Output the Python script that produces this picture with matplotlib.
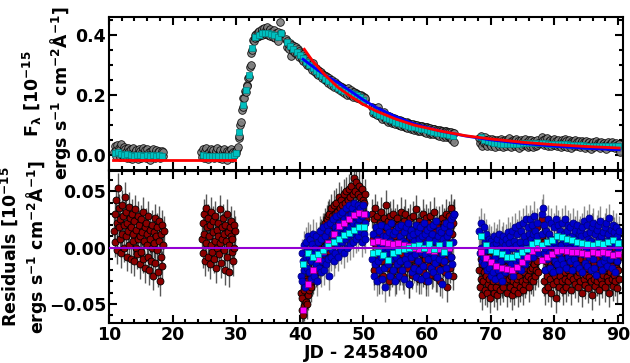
import numpy as np
import matplotlib
matplotlib.use("Agg")
import matplotlib.pyplot as plt
from matplotlib.ticker import MultipleLocator

plt.rcParams['font.family'] = ['DejaVu Sans']
plt.rcParams['font.weight'] = 'bold'
plt.rcParams['axes.labelweight'] = 'bold'
plt.rcParams['mathtext.default'] = 'bf'
plt.rcParams['font.size'] = 12.5

# Observed light curve, values in units of 1e-3 (x 1e-15 erg/s/cm2/A)
# one list per observing block, sampled every obs_step days from obs_start
obs_start = [10.8, 24.5, 30.0, 37.8, 51.4, 68.2, 78.0]
obs_step = 0.125
obs_1 = [10, 28, -4, 15, 32, 5, 22, -8, 18, 35, 0, 12, 26, -6, 20, 8, -12, 24,
         3, 14, -10, 18, 6, -15, 22, 0, 10, -8, 16, 4, -14, 20, -2, 12, -10, 8,
         24, -5, 2, 15, -12, 6, 18, -4, 10, -16, 14, 2, -8, 20, -2, 6, -12, 16,
         0, 10, -6, 14, -10, 4, 12, -4, 8]
obs_2 = [8, -6, 18, 2, -12, 14, 22, -4, 6, -15, 10, 0, 20, -8, 4, 16, -10, 2,
         12, -6, 24, 0, -12, 8, 15, -4, -14, 10, 4, 18, -8, 0, 12, -16, 6, 14,
         -4, 20, 2, -10, 8, -2, 10]
obs_3 = [5, 20, 25, 55, 62, 98, 108, 150, 160, 188, 190, 212, 208, 232, 228,
         255, 260, 292, 300, 338, 350, 382, 378, 398, 388, 402, 392, 408, 396,
         412, 400, 405, 418, 398, 410, 422, 402, 415, 408, 425, 400, 412, 420,
         395, 410, 405, 392, 415, 398, 388, 405, 395, 380, 410, 400, 443, 405]
obs_4 = [385, 360, 378, 368, 352, 372, 358, 330, 366, 345, 362, 350, 340, 358,
         335, 352, 345, 325, 340, 330, 318, 335, 312, 330, 322, 305, 318, 300,
         312, 295, 308, 298, 300, 282, 305, 288, 292, 275, 290, 270, 282, 265,
         280, 268, 275, 255, 270, 262, 265, 248, 262, 250, 258, 240, 255, 245,
         250, 232, 248, 238, 240, 225, 242, 230, 235, 218, 232, 222, 228, 212,
         226, 215, 222, 205, 220, 210, 218, 200, 222, 206, 212, 198, 215, 200,
         210, 192, 208, 196, 205, 188, 202, 192, 200, 185, 198, 188, 196, 180,
         192, 184, 188]
obs_5 = [160, 140, 155, 138, 135, 150, 132, 158, 145, 128, 140, 125, 120, 138,
         142, 125, 132, 115, 118, 130, 110, 128, 114, 126, 124, 105, 110, 122,
         102, 120, 118, 106, 116, 98, 100, 115, 95, 112, 110, 98, 110, 92, 94,
         108, 88, 106, 104, 92, 103, 85, 88, 102, 82, 100, 98, 86, 98, 80, 84,
         96, 78, 96, 95, 82, 93, 76, 80, 92, 72, 92, 90, 78, 88, 70, 74, 87, 68,
         86, 85, 72, 84, 65, 70, 82, 62, 82, 80, 68, 80, 60, 66, 78, 58, 78, 77,
         62, 76, 55, 60, 75, 50, 74, 72, 42]
obs_6 = [55, 38, 62, 45, 30, 50, 40, 58, 35, 48, 28, 44, 52, 36, 46, 30, 54,
         40, 33, 49, 27, 43, 51, 37, 45, 29, 41, 53, 34, 47, 26, 42, 50, 36, 31,
         48, 39, 55, 30, 44, 25, 41, 49, 35, 46, 28, 52, 38, 33, 45, 24, 42, 50,
         37, 29, 47, 40, 32, 53, 36, 44, 27, 48, 39, 31, 51, 35, 43, 26, 46, 38,
         30, 49, 34, 41]
obs_7 = [58, 40, 48, 32, 52, 44, 36, 55, 30, 46, 38, 50, 28, 45, 42, 34, 53,
         37, 47, 29, 44, 51, 33, 40, 26, 48, 36, 43, 31, 52, 38, 45, 27, 41, 49,
         34, 39, 24, 46, 35, 42, 30, 50, 37, 28, 44, 33, 47, 25, 40, 36, 45, 29,
         42, 22, 38, 46, 31, 40, 27, 44, 34, 20, 39, 30, 43, 26, 37, 45, 32, 28,
         41, 35, 23, 38, 44, 30, 36, 26, 40, 33, 21, 37, 42, 29, 34, 25, 39, 31,
         43, 27, 35, 22, 38, 30, 33, 24, 36, 10]

# binned light curve (cyan squares), every 0.5 d
bin_start = [10.9, 24.7, 30.0, 38.0, 51.5, 68.5, 78.0]
bin_step = 0.5
bin_1 = [5, 8, 3, 0, 2, -1, -3, 0, -2, -4, -1, -3, -2, -4, -1, -3]
bin_2 = [-2, -3, -4, -3, -5, -4, -3, -5, -4, -3, -2]
bin_3 = [5, 75, 165, 215, 265, 355, 392, 400, 405, 405, 405, 402, 398, 392, 405]
bin_4 = [375, 362, 352, 344, 333, 322, 311, 300, 290, 280, 271, 262, 254, 246,
         238, 230, 223, 216, 212, 209, 206, 203, 198, 192, 184]
bin_5 = [145, 140, 134, 128, 124, 118, 115, 110, 107, 103, 100, 97, 94, 92, 89,
         87, 85, 82, 79, 77, 74, 72, 70, 68, 66, 64]
bin_6 = [58, 50, 45, 42, 40, 38, 37, 36, 35, 35, 35, 36, 37, 38, 39, 40, 40, 41]
bin_7 = [38, 38, 37, 37, 37, 37, 36, 35, 35, 34, 33, 33, 32, 32, 31, 31, 30,
         30, 29, 29, 29, 28, 29, 30, 28]

# model curves
flat_x = [10.7, 29.8]
flat_y = [-0.017, -0.017]
red_x = [40.7, 42, 44, 46, 48, 50, 52, 55, 58, 62, 66, 70, 75, 80, 85, 90.2]
red_y = [0.352, 0.313, 0.265, 0.225, 0.195, 0.168, 0.146, 0.120, 0.099, 0.080,
         0.064, 0.053, 0.042, 0.034, 0.028, 0.023]
blue_x = [40.5, 42, 44, 46, 48, 50, 52, 55, 58, 62, 66, 70, 75, 80, 85, 90.2]
blue_y = [0.319, 0.295, 0.265, 0.241, 0.212, 0.183, 0.158, 0.128, 0.103, 0.080,
          0.063, 0.050, 0.038, 0.029, 0.022, 0.017]

# residuals (units of 1e-3), every 0.1 d
res_start = [10.8, 24.6, 40.2, 51.4, 68.2, 78.0]
res_step = 0.1
res_err = 0.013
red_1 = [15, 30, 5, 42, 22, -2, 53, 18, 35, 8, 25, -5, 38, 12, 28, 0, 20, 45,
         10, 32, -8, 22, 15, 36, 2, 26, -10, 18, 30, 6, 12, -12, 24, 34, 0, 16,
         -6, 28, 8, 20, -15, 10, 25, -4, 14, 32, -10, 6, 18, -18, 22, 2, 12, -8,
         28, -20, 8, 16, -12, 20, 0, -25, 14, 4, 26, -14, 10, -2, 18, -22, 6,
         24, -30, 12, -8, 20, -16, 2, 15]
red_2 = [8, 22, -5, 30, 12, -12, 35, 4, 18, -8, 26, 10, -15, 20, 2, 32, -4, 14,
         24, -10, 6, 28, -18, 16, 0, 22, 10, -6, 34, 4, -14, 18, 8, 26, -2, 12,
         -20, 20, 6, 30, -8, 14, 2, -22, 18, 10, 24, -4, 8, -12, 20, 0, 15]
red_3 = [-40, -55, -45, -60, -38, -52, -35, -48, -28, -50, -30, -42, -22, -38,
         -20, -35, -12, -30, -10, -28, -5, -25, -8, -22, 2, -20, 0, -15, 5, -18,
         10, -10, 12, -8, 15, -5, 18, -2, 22, 0, 25, 5, 28, -3, 30, 8, 20, 35, 5,
         28, 12, 38, 2, 30, 15, 40, 8, 32, 22, 45, 5, 35, 18, 42, 10, 38, 25, 48,
         12, 40, 28, 50, 15, 42, 30, 52, 18, 45, 32, 55, 20, 48, 35, 62, 22, 50,
         38, 58, 25, 48, 35, 55, 20, 45, 38, 52, 28, 42, 15, 40, 30, 48, 25]
red_4 = [30, 8, -20, 25, 35, 2, -15, 18, 28, -8, 12, -28, 22, 5, 32, -12, 15,
         -25, 8, 26, -5, 18, 38, -18, 10, 24, -30, 4, 28, -10, 16, -22, 30, 0,
         -12, 22, 10, -28, 26, -2, -15, 20, 6, -20, 14, 32, -6, 18, -25, 4, 24,
         -12, 30, -2, -18, 14, 22, -32, 8, 26, -10, 16, -24, 6, 28, -4, 12, -16,
         34, 0, -20, 18, 10, -28, 24, 2, -14, 20, -6, 30, -22, 8, 16, -10, 26,
         -30, 12, 4, 22, -16, 28, -4, 10, -24, 18, 6, -12, 32, -8, 14, -26, 20,
         2, -18, 24, -6, 12, -30, 16, 26, -2, -14, 22, 8, -22, 30, -10, 14, -35,
         20, 4, 28, -18, 35, -8, 12, -25, 22, 30]
red_5 = [-20, -35, -10, -28, -42, -15, -30, -5, -22, -38, -12, -25, -40, -18,
         -32, -8, -28, -45, -20, -35, -15, -30, -25, -40, -10, -28, -35, -18,
         -42, -22, -30, -12, -38, -25, -15, -32, -20, -35, -8, -28, -18, -30,
         -5, -22, -40, -15, -28, -12, -35, -20, -25, -42, -10, -30, -18, -38,
         -22, -8, -32, -15, -28, -40, -12, -25, -35, -5, -20, -30, -15, -38,
         -22, -10, -32, -18, -28, 0, -25, -12, -35, -20, -8, -28, 5, -18, -30,
         10, -15, -25, -5, -20, 18, -12, -22]
red_6 = [25, 10, -10, -30, 5, -20, -38, -12, -25, -5, -35, -18, 0, -28, -15,
         -40, -8, -22, -32, -12, -2, -25, -45, -15, -30, -8, -20, -35, -10, -25,
         2, -18, -30, -12, -38, -5, -22, -28, -15, -35, -8, -20, -30, -12, 0,
         -25, -38, -15, -5, -28, -20, -10, -32, -18, 5, -25, -12, -35, -8, -22,
         -15, -30, -10, -40, -20, -5, -28, -15, -33, -10, -24, 0, -18, -36, -12,
         -26, -6, -30, -16, -42, -20, -8, -28, -14, -34, -2, -22, -30, -10, -25,
         -38, -15, -5, -28, -18, -32, -10, -24, 2, -20, -35, -12, -26, -8, -30,
         -18, -40, -14, -22, -6, -28, -16, -34, -10, -24, -2, -30, -18, -36,
         -12, -20, -28, -8]
blue_3 = [-25, -5, -30, -12, 2, -20, -35, -8, 5, -18, -2, 10, -22, -8, 8, -28,
          -12, 3, -20, 12, -5, -25, 0, -15, 10, -30, -8, 5, -18, 15, -3, -22, 8,
          -12, 18, -5, -20, 10, 0, -15, 20, 2, -10, 15, -25, 5, 22, -8, 12, -2,
          25, -12, 8, 18, -5, 28, 2, 15, -8, 22, 10, 30, -2, 18, 5, 32, 12, -5,
          25, 8, 35, 15, 0, 28, 10, 38, 18, 2, 30, 12, 35, 22, 5, 40, 15, 28, 8,
          32, 20, 38, 10, 25, 35, 15, 30, 5, 28, 18, 38, 12, 22, 8, 30]
blue_4 = [-10, 12, -25, 5, -15, 18, -5, -30, 8, -12, 15, -20, 2, -8, 20, -28,
          0, 10, -18, 5, -35, 10, -5, 18, -15, 0, 14, -25, 6, -10, 22, -5, -20,
          12, 0, -30, 15, -8, 4, -15, 18, -2, -25, 10, -12, 20, 0, -20, 6, 14,
          -28, 4, -10, 18, -5, -15, 22, -2, -32, 10, -8, 16, -22, 3, 12, -18, 6,
          -6, 20, -26, 0, 14, -12, 8, -20, 18, -4, -28, 10, 2, -16, 22, -6, 12,
          -24, 4, 16, -10, -30, 8, 18, -4, -18, 12, 0, -22, 20, -8, 6, -14, 24,
          -2, -26, 10, -10, 16, 2, -20, 14, -6, -32, 8, 18, -12, 4, -18, 22, -4,
          10, -24, 14, 0, 20, -8, 25, -15, 28, 5, 30]
blue_5 = [15, -5, 22, 0, -12, 10, -8, 18, -15, 5, -2, 12, -20, 4, -10, 8, -18,
          0, -25, 6, -12, 2, -22, 10, -8, -28, 4, -15, 8, -20, -5, 12, -25, 0,
          -12, 6, -30, -2, 10, -18, 2, -22, 8, -10, -3, 14, -20, 4, -12, 10, -15,
          0, 15, -25, 6, -8, 18, -12, 2, -18, 12, -5, 20, -10, 5, -20, 15, 0, -8,
          22, -2, 10, -15, 25, 5, -10, 18, 0, 12, -6, 25, 8, -4, 20, 12, -8, 28,
          5, 15, 0, 22, 10, -5]
blue_6 = [30, 12, 35, -5, 20, 0, -20, 15, 5, -10, 25, -5, 12, -18, 8, 22, -8,
          2, -22, 18, 5, -12, 25, 0, -15, 10, 20, -5, -20, 15, 2, -10, 22, 8,
          -15, 12, -2, 25, -18, 5, 15, -8, 20, 0, -12, 18, -5, 10, -20, 22, 5,
          -10, 15, 0, -15, 20, 8, -5, 12, -18, 15, 2, 10, -22, 18, -6, 24, 4,
          -14, 12, -2, 20, -16, 8, 26, -8, 14, -20, 6, 18, -10, 22, 0, -18, 12,
          4, -24, 16, -4, 20, 8, -14, 24, -6, 10, -20, 14, 2, -12, 18, -8, 22, 6,
          -16, 12, -2, 26, -10, 4, 16, -18, 8, 20, -6, 14, -22, 2, 18, -12, 10,
          0, 15, 5]

# binned residuals, every 0.8 d
rbin_start = [40.5, 51.5, 68.5, 78.0]
rbin_step = 0.8
mag_3 = [-55, -32, -20, -10, -3, 4, 12, 19, 22, 25, 29, 31, 30]
mag_4 = [5, 6, 5, 4, 3, 4, 2, 1, 0, -1, 0, -2, -3, -1, -2, 0]
mag_5 = [-4, -9, -13, -16, -18, -19, -20, -17, -13, -8, -3, 0]
mag_6 = [-11, -8, -6, -3, -2, -3, -4, -4, -5, -6, -4, -5, -4, -5, -7, -6]
cyan_3 = [-15, -5, -8, -6, -2, 1, 5, 8, 11, 13, 16, 18, 18]
cyan_4 = [-5, -4, -7, -11, -5, -3, -1, 0, 1, 2, 0, 3, -1, 2, -4, 3]
cyan_5 = [10, 2, -2, -4, -6, -8, -8, -7, -4, -1, 3, 5]
cyan_6 = [2, 5, 7, 10, 9, 8, 7, 5, 4, 3, 2, 4, 3, 5, 7, 4]


def days(start, step, vals):
    return start + step * np.arange(len(vals))


fig = plt.figure(figsize=(6.3, 3.63), dpi=100)
ax1 = fig.add_axes([0.173, 0.532, 0.816, 0.4215])
ax2 = fig.add_axes([0.173, 0.110, 0.816, 0.419], sharex=ax1)

# top panel: light curve
for s, v in zip(obs_start, [obs_1, obs_2, obs_3, obs_4, obs_5, obs_6, obs_7]):
    ax1.plot(days(s, obs_step, v), np.array(v) / 1000, 'o', mfc='gray',
             mec='k', ms=5.5, mew=0.6, alpha=0.9)
for s, v in zip(bin_start, [bin_1, bin_2, bin_3, bin_4, bin_5, bin_6, bin_7]):
    ax1.plot(days(s, bin_step, v), np.array(v) / 1000, 's', mfc='c',
             mec='teal', ms=4.5, mew=0.5)
ax1.plot(flat_x, flat_y, color='r', lw=2)
ax1.plot(blue_x, blue_y, color='b', lw=2)
ax1.plot(red_x, red_y, color='r', lw=2)

# bottom panel: residuals
for s, v in zip(res_start, [red_1, red_2, red_3, red_4, red_5, red_6]):
    ax2.errorbar(days(s, res_step, v), np.array(v) / 1000, yerr=res_err,
                 fmt='o', mfc='darkred', mec='k', ms=5, mew=0.6,
                 ecolor=(0, 0, 0, 0.65), elinewidth=1.0)
for s, v in zip(res_start[2:], [blue_3, blue_4, blue_5, blue_6]):
    ax2.errorbar(days(s, res_step, v), np.array(v) / 1000, yerr=res_err,
                 fmt='o', mfc='mediumblue', mec='navy', ms=5, mew=0.6,
                 ecolor=(0, 0, 0, 0.45), elinewidth=1.0)
for s, v in zip(rbin_start, [mag_3, mag_4, mag_5, mag_6]):
    ax2.plot(days(s, rbin_step, v), np.array(v) / 1000, 's', mfc='magenta',
             mec='purple', ms=5, mew=0.5, zorder=5)
for s, v in zip(rbin_start, [cyan_3, cyan_4, cyan_5, cyan_6]):
    ax2.plot(days(s, rbin_step, v), np.array(v) / 1000, 's', mfc='cyan',
             mec='teal', ms=5, mew=0.5, zorder=5)
ax2.axhline(0, color='darkviolet', lw=1.5, zorder=10)

ax1.set_xlim(10, 90.8)
ax1.set_ylim(-0.05, 0.46)
ax2.set_ylim(-0.067, 0.068)

ax1.yaxis.set_major_locator(MultipleLocator(0.2))
ax1.yaxis.set_minor_locator(MultipleLocator(0.05))
ax2.yaxis.set_major_locator(MultipleLocator(0.05))
ax2.yaxis.set_minor_locator(MultipleLocator(0.01))
ax2.xaxis.set_major_locator(MultipleLocator(10))
ax2.xaxis.set_minor_locator(MultipleLocator(2))

for ax in (ax1, ax2):
    ax.tick_params(which='both', direction='in', top=True, right=True,
                   width=1.5, pad=2)
    ax.tick_params(which='major', length=6)
    ax.tick_params(which='minor', length=3)
    for sp in ax.spines.values():
        sp.set_linewidth(1.5)
ax1.tick_params(labelbottom=False)

ax1.set_ylabel('F$_\\lambda$ [10$^{-15}$\nergs s$^{-1}$ cm$^{-2}$Å$^{-1}$]',
               labelpad=2)
ax2.set_ylabel('Residuals [10$^{-15}$\nergs s$^{-1}$ cm$^{-2}$Å$^{-1}$]',
               labelpad=0)
ax2.set_xlabel('JD - 2458400', labelpad=0)

fig.savefig('out.png', dpi=100)
